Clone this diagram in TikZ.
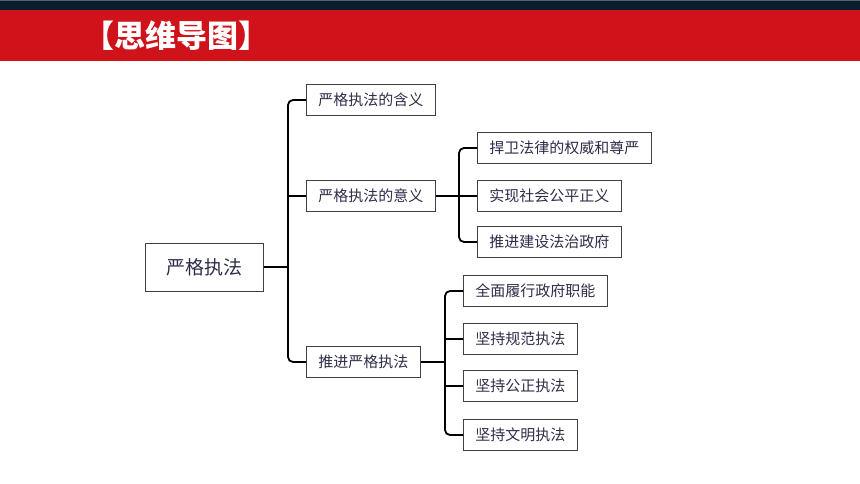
\documentclass[tikz,border=0pt]{standalone}
\usepackage{fontspec}
\newfontfamily\cjk{Noto Sans CJK SC}
\usetikzlibrary{positioning}
\definecolor{headred}{HTML}{D0131A}
\definecolor{headnavy}{HTML}{0B1E2D}
\definecolor{headgray}{HTML}{56636E}
\definecolor{boxtext}{HTML}{2E2E4A}
\tikzset{
  topic/.style={draw=black!75, line width=0.9pt, fill=white, text=boxtext, font=\cjk\fontsize{15}{15}\selectfont,
    inner xsep=12pt, minimum height=31pt, anchor=west},
  roottopic/.style={topic, font=\cjk\fontsize{19}{19}\selectfont, inner xsep=21pt, minimum height=48pt},
  link/.style={line width=1.8pt, rounded corners=5pt}
}
\begin{document}
\begin{tikzpicture}[x=1pt,y=-1pt]
		\useasboundingbox (0,0) rectangle (860,484);
		\fill[headnavy] (0,0) rectangle (860,10);
		\fill[headgray] (0,0) rectangle (860,1.5);
		\fill[headred] (0,10) rectangle (860,61);
		\draw (80,36) node[anchor=west, text=white, font=\cjk\bfseries\fontsize{31}{31}\selectfont] (title) {【思维导图】};
		\draw (145,267) node[roottopic] (root) {严格执法};
		\draw (306,100) node[topic] (hanyi) {严格执法的含义};
		\draw (306,196) node[topic] (yiyi) {严格执法的意义};
		\draw (306,362) node[topic] (tuijin) {推进严格执法};
		\draw (477,148) node[topic] (hanwei) {捍卫法律的权威和尊严};
		\draw (477,196) node[topic] (gongping) {实现社会公平正义};
		\draw (477,242) node[topic] (zhengfu) {推进建设法治政府};
		\draw (463,291) node[topic] (zhineng) {全面履行政府职能};
		\draw (463,339) node[topic] (guifan) {坚持规范执法};
		\draw (463,386) node[topic] (gongzheng) {坚持公正执法};
		\draw (463,435) node[topic] (wenming) {坚持文明执法};
		\coordinate (trunk) at (288,267);
		\coordinate (yitrunk) at (459,196);
		\coordinate (tuitrunk) at (445,362);
		\draw[link] (root.east) -- (trunk);
		\draw[link] (hanyi.west) -| (trunk) |- (tuijin.west);
		\draw[link] (yiyi.west) -- (yiyi.west -| trunk);
		\draw[link] (yiyi.east) -- (yitrunk);
		\draw[link] (hanwei.west) -| (yitrunk) |- (zhengfu.west);
		\draw[link] (gongping.west) -- (yitrunk);
		\draw[link] (tuijin.east) -- (tuitrunk);
		\draw[link] (zhineng.west) -| (tuitrunk) |- (wenming.west);
		\draw[link] (guifan.west) -- (guifan.west -| tuitrunk);
		\draw[link] (gongzheng.west) -- (gongzheng.west -| tuitrunk);
\end{tikzpicture}
\end{document}
